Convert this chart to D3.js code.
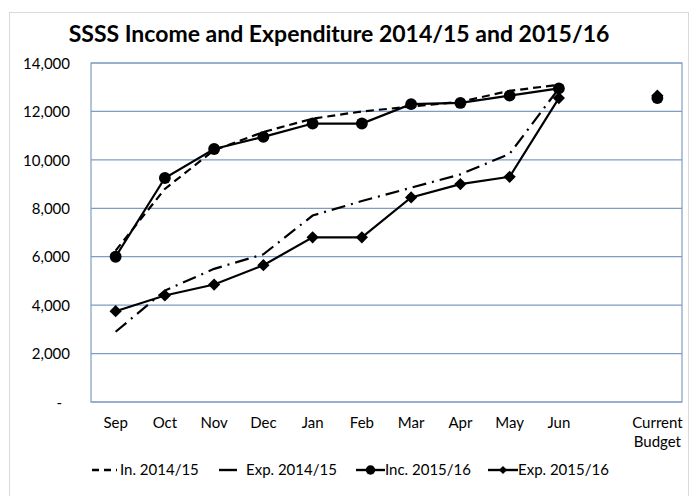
<!DOCTYPE html>
<html>
<head>
<meta charset="utf-8">
<script src="https://cdn.jsdelivr.net/npm/d3@7"></script>
<style>
  body { margin: 0; background: #fff; }
  svg text { font-family: Lato, "Open Sans", sans-serif; fill: #000; }
</style>
</head>
<body>
<div id="chart"></div>
<script>
// categories (slot 10 is an empty gap before the budget)
const months = ["Sep","Oct","Nov","Dec","Jan","Feb","Mar","Apr","May","Jun","","Current\nBudget"];

// series values (null = no point)
const inc1415 = [6250, 8800, 10400, 11150, 11700, 12000, 12200, 12400, 12850, 13100, null, null];
const exp1415 = [2900, 4600, 5500, 6100, 7700, 8300, 8850, 9400, 10250, 12950, null, null];
const inc1516 = [6000, 9250, 10450, 10950, 11500, 11500, 12300, 12350, 12650, 12950, null, 12550];
const exp1516 = [3750, 4400, 4850, 5650, 6800, 6800, 8450, 9000, 9300, 12550, null, 12650];

const yTicks = [0, 2000, 4000, 6000, 8000, 10000, 12000, 14000];

const W = 696, H = 496;
const margin = {top: 63, right: 14, bottom: 94, left: 91};
const width = W - margin.left - margin.right,
      height = H - margin.top - margin.bottom;

const gridColor = "#7f9cc4";

const svg = d3.select("#chart").append("svg")
    .attr("width", W).attr("height", H);

// outer chart border
svg.append("rect")
    .attr("x", 9.5).attr("y", 12.5)
    .attr("width", 679).attr("height", 490)
    .attr("fill", "none").attr("stroke", "#d9d9d9");

svg.append("text")
    .attr("x", 339).attr("y", 42)
    .attr("text-anchor", "middle")
    .style("font-size", "23px").style("font-weight", "bold")
    .text("SSSS Income and Expenditure 2014/15 and 2015/16");

const g = svg.append("g").attr("transform", `translate(${margin.left},${margin.top})`);

const x = d3.scaleBand().domain(d3.range(months.length)).range([0, width]);
const y = d3.scaleLinear().domain([0, 14000]).range([height, 0]);
const cx = i => x(i) + x.bandwidth() / 2;

// grid lines
g.selectAll(".grid").data(yTicks).join("line")
    .attr("x1", 0).attr("x2", width)
    .attr("y1", d => y(d)).attr("y2", d => y(d))
    .attr("stroke", gridColor).attr("stroke-width", 1.2);

// plot area border
g.append("rect")
    .attr("width", width).attr("height", height)
    .attr("fill", "none").attr("stroke", gridColor).attr("stroke-width", 1.2);

// y axis
const yAxis = g.append("g")
    .call(d3.axisLeft(y).tickValues(yTicks).tickSize(0).tickPadding(21)
        .tickFormat(d => d === 0 ? "-" : d3.format(",")(d)));
yAxis.select(".domain").remove();
yAxis.selectAll("text").style("font-size", "15px").attr("dy", "0.35em");
yAxis.selectAll(".tick").filter(d => d === 0).select("text").attr("dx", -8);

// x axis labels
const xLab = g.append("g").selectAll("text").data(months).join("text")
    .attr("x", (d, i) => cx(i))
    .attr("y", height + 26)
    .attr("text-anchor", "middle")
    .style("font-size", "15px");
xLab.each(function(d) {
  d.split("\n").forEach((s, k) => {
    d3.select(this).append("tspan").attr("x", d3.select(this).attr("x"))
      .attr("dy", k === 0 ? 0 : 19).text(s);
  });
});

const line = d3.line()
    .defined(d => d.v !== null)
    .x(d => cx(d.i)).y(d => y(d.v));

const toPts = arr => arr.map((v, i) => ({i, v})).slice(0, 10);

const series = [
  {name: "In. 2014/15", data: inc1415, dash: "8,5", marker: null},
  {name: "Exp. 2014/15", data: exp1415, dash: "14,6,2,6", marker: null},
  {name: "Inc. 2015/16", data: inc1516, dash: null, marker: "circle"},
  {name: "Exp. 2015/16", data: exp1516, dash: null, marker: "diamond"}
];

series.forEach(s => {
  g.append("path")
    .attr("d", line(toPts(s.data)))
    .attr("fill", "none").attr("stroke", "#000").attr("stroke-width", 2.2)
    .attr("stroke-dasharray", s.dash);
});

const sym = {
  circle: d3.symbol().type(d3.symbolCircle).size(110),
  diamond: d3.symbol().type(d3.symbolSquare).size(75)
};

series.filter(s => s.marker).forEach(s => {
  const pts = s.data.map((v, i) => ({i, v})).filter(d => d.v !== null);
  g.selectAll(null).data(pts).join("path")
    .attr("d", sym[s.marker])
    .attr("transform", d => `translate(${cx(d.i)},${y(d.v)})` + (s.marker === "diamond" ? " rotate(45)" : ""))
    .attr("fill", "#000");
});

// legend: line start, line end, marker centre, text start
const legLayout = [
  {x1: 92, x2: 117, tx: 120},
  {x1: 219, x2: 237, tx: 246},
  {x1: 356, x2: 385, tx: 385},
  {x1: 488, x2: 518, tx: 518}
];
const leg = svg.append("g").attr("transform", "translate(0,470)");
series.forEach((s, k) => {
  const p = legLayout[k];
  leg.append("line").attr("x1", p.x1).attr("x2", p.x2).attr("y1", 0).attr("y2", 0)
    .attr("stroke", "#000").attr("stroke-width", 2.4)
    .attr("stroke-dasharray", k === 0 ? "7,5" : null);
  if (s.marker) {
    leg.append("path").attr("d", s.marker === "circle"
        ? d3.symbol().type(d3.symbolCircle).size(70)()
        : d3.symbol().type(d3.symbolSquare).size(34)())
      .attr("transform", `translate(${(p.x1 + p.x2) / 2},0)` + (s.marker === "diamond" ? " rotate(45)" : ""))
      .attr("fill", "#000");
  }
  leg.append("text").attr("x", p.tx).attr("y", 0).attr("dy", "0.35em")
    .style("font-size", "15px").text(s.name);
});
</script>
</body>
</html>
